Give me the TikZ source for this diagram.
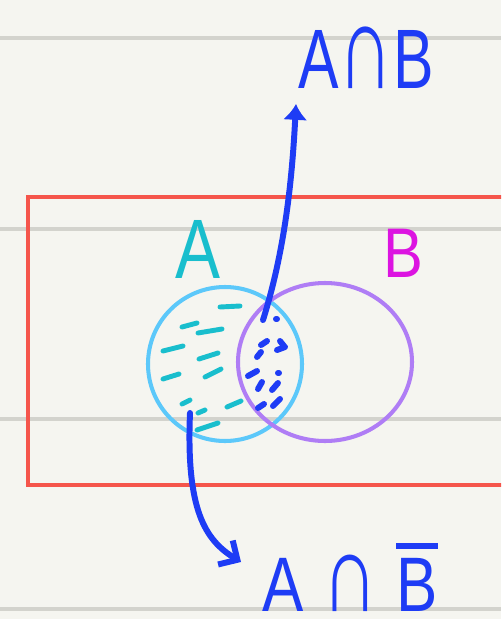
\documentclass[tikz,border=0pt]{standalone}
\usepackage{fontspec}
\setmainfont{Liberation Sans}
\usetikzlibrary{arrows.meta, positioning}
\definecolor{paper}{RGB}{245,245,240}
\definecolor{ruling}{RGB}{211,211,205}
\definecolor{frame}{RGB}{245,85,75}
\definecolor{setA}{RGB}{92,200,250}
\definecolor{setB}{RGB}{175,125,245}
\definecolor{tealink}{RGB}{25,190,205}
\definecolor{pinkink}{RGB}{220,20,225}
\definecolor{blueink}{RGB}{30,60,245}
\newcommand{\capsym}{\scalebox{1.25}[1.45]{∩}}
\newcommand{\notB}{\vbox{\hrule height 3.2pt\kern 5pt\hbox{B}}}

\begin{document}
\begin{tikzpicture}[x=0.02cm, y=-0.02cm,
      rule/.style={ruling, line width=2.8pt},
      set/.style={line width=2.3pt},
      hatch/.style={tealink, line width=2.8pt, line cap=round},
      dot/.style={blueink, line width=3.4pt, line cap=round},
      pointer/.style={blueink, line width=3.4pt, line cap=round},
      lbl/.style={inner sep=0pt, font=\fontsize{48}{48}\selectfont}
    ]
    \fill[paper] (0,0) rectangle (501,619);
    \clip (0,0) rectangle (501,619);
    \foreach \y in {38,229,419,609}
      \draw[rule] (0,\y) -- (501,\y);
    \draw[frame, line width=2.5pt] (520,197) -- (28,197) -- (28,485) -- (520,485);

    \draw[set, setA] (225,364) circle [radius=77];
    \draw[set, setB] (325,362) ellipse [x radius=87, y radius=79];

    \foreach \a/\b/\c/\d in {220/307/240/306, 182/327/197/323, 198/333/222/329,
        163/351/183/346, 199/359/218/353, 163/379/179/374, 205/377/221/369,
        182/404/190/400, 198/413/205/410, 227/407/241/401, 197/430/218/423}
      \draw[hatch] (\a,\b) -- (\c,\d);
    \foreach \a/\b/\c/\d in {276/319/277/319, 261/345/267/341, 280/341/284/346,
        277/350/285/347, 257/357/261/352, 248/376/257/371, 278/373/279/373,
        258/389/262/382, 272/390/278/383, 258/408/264/404, 273/406/280/399}
      \draw[dot] (\a,\b) -- (\c,\d);

    \node[lbl, tealink, xscale=0.8] (lblA) at (198,249) {A};
    \node[lbl, pinkink, xscale=0.85, font=\fontsize{40}{40}\selectfont] (lblB) at (403,253) {B};
    \node[lbl, blueink, xscale=0.72] (lblAB) at (366,58) {A\capsym B};
    \node[lbl, blueink, xscale=0.8, font=\fontsize{44}{44}\selectfont, anchor=base] (lblAnB) at (350,611) {A\hspace{0.3em}\capsym\hspace{0.3em}\notB};

    \coordinate (inAB) at (263,320);
    \coordinate (tipAB) at (296,104);
    \coordinate (inAnB) at (190,413);
    \coordinate (tipAnB) at (241,562);

    \draw[pointer, -{Latex[length=9pt, width=14pt]}] (inAB) .. controls (285,250) and (292,180) .. (tipAB);
    \draw[pointer, -{Straight Barb[length=8pt, width=16pt]}] (inAnB) .. controls (186,510) and (205,540) .. (tipAnB);
  \end{tikzpicture}
\end{document}
